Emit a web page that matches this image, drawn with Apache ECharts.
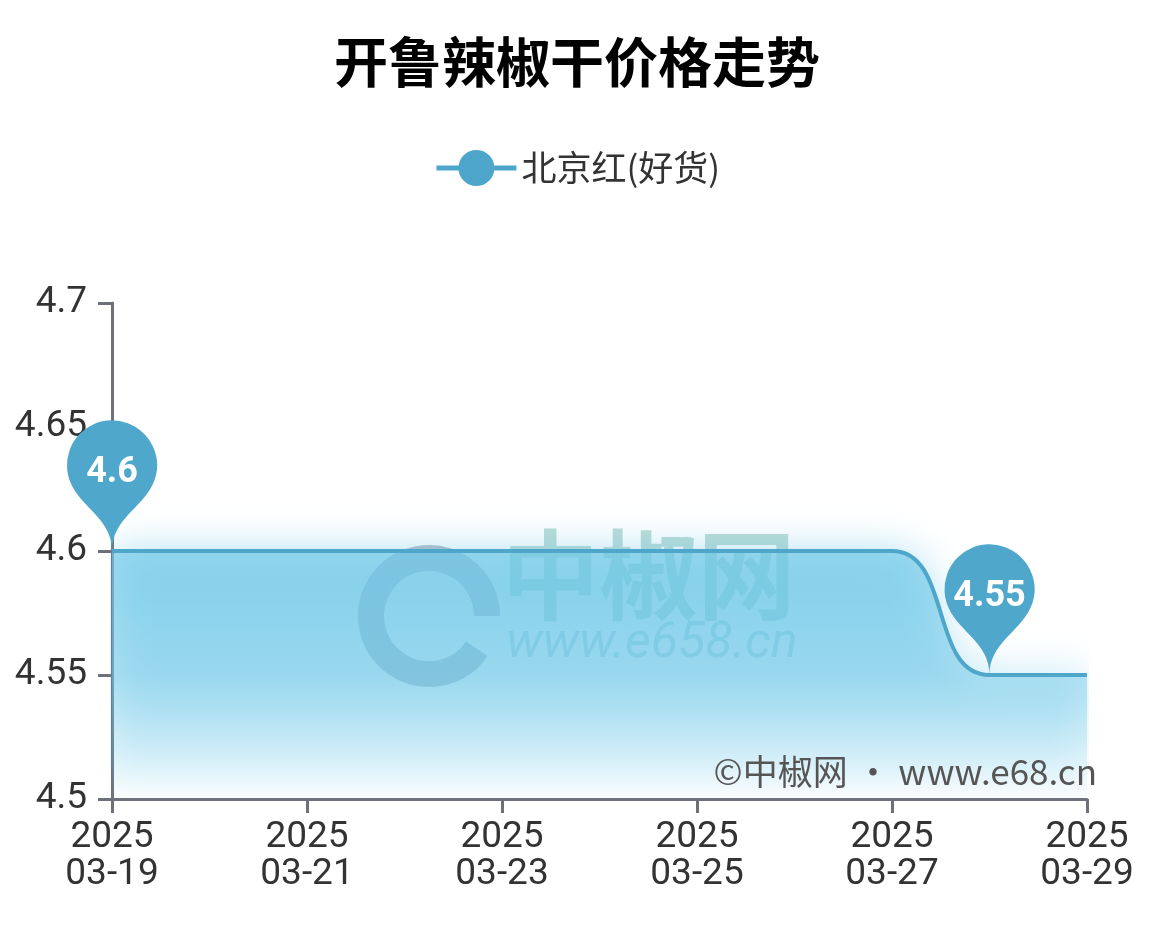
<!DOCTYPE html>
<html><head><meta charset="utf-8">
<script src="https://cdn.jsdelivr.net/npm/echarts@6/dist/echarts.min.js"></script>
<style>html,body{margin:0;padding:0;background:#fff}#c{width:1154px;height:929px}</style>
</head><body><div id="c"></div>
<script>
const categories = ['2025\n03-19','2025\n03-20','2025\n03-21','2025\n03-22','2025\n03-23','2025\n03-24','2025\n03-25','2025\n03-26','2025\n03-27','2025\n03-28','2025\n03-29'];
const seriesName = '北京红(好货)';
const values = [4.6,4.6,4.6,4.6,4.6,4.6,4.6,4.6,4.6,4.55,4.55];
const titleText = '开鲁辣椒干价格走势';
const creditText = '©中椒网 · www.e68.cn';

const chart = echarts.init(document.getElementById('c'));
chart.setOption({
  animation:false,
  backgroundColor:'#fff',
  title:{text:titleText,left:'center',top:30,textStyle:{fontSize:54,fontWeight:'bold',color:'#000',fontFamily:'Noto Sans CJK SC'}},
  legend:{top:145,left:'center',itemWidth:80,itemHeight:45,itemGap:20,
    lineStyle:{width:5},
    textStyle:{fontSize:35,color:'#333',fontFamily:'Noto Sans CJK SC'},data:[seriesName]},
  grid:{left:112,right:67,top:303,bottom:130},
  xAxis:{type:'category',boundaryGap:false,data:categories,
    axisLine:{lineStyle:{color:'#6e7079',width:3}},
    axisTick:{length:14,lineStyle:{width:3},interval:1},
    axisLabel:{interval:1,fontSize:37,color:'#333',lineHeight:37,margin:20,fontFamily:'Roboto'}},
  yAxis:{type:'value',min:4.5,max:4.7,interval:0.05,
    axisLine:{show:true,lineStyle:{color:'#6e7079',width:3}},
    axisTick:{show:true,length:14,lineStyle:{width:3}},
    splitLine:{show:false},
    axisLabel:{fontSize:37,color:'#333',margin:25,fontFamily:'Roboto'}},
  graphic:[
    {type:'arc',left:358,top:545,shape:{r:58,startAngle:0.6,endAngle:Math.PI*2},style:{fill:'none',stroke:'rgba(110,125,150,0.5)',lineWidth:26},z:1},
    {type:'text',left:500,top:524,style:{text:'中椒网',font:'bold 98px "Noto Sans CJK SC"',fill:'rgba(80,165,150,0.4)',stroke:'rgba(255,255,255,0.25)',lineWidth:3},z:1},
    {type:'text',left:505,top:618,style:{text:'www.e658.cn',font:'italic 50px Roboto',fill:'rgba(90,160,170,0.4)',stroke:'rgba(255,255,255,0.2)',lineWidth:2},z:1},
    {type:'text',right:57,top:754,style:{text:creditText,font:'35px "Noto Sans CJK SC"',fill:'#555'},z:10}
  ],
  series:[{
    name:seriesName,type:'line',smooth:true,data:values,
    symbol:'circle',symbolSize:10,showSymbol:false,
    lineStyle:{color:'#4ea6cb',width:4},
    itemStyle:{color:'#4ea6cb'},
    areaStyle:{
      color:new echarts.graphic.LinearGradient(0,0,0,1,[{offset:0,color:'rgba(110,200,232,0.95)'},{offset:0.5,color:'rgba(110,200,232,0.7)'},{offset:1,color:'rgba(110,200,232,0.03)'}]),
      shadowColor:'rgba(100,195,230,0.8)',shadowBlur:40},
    markPoint:{symbolSize:150,
      itemStyle:{color:'#4fa8cc'},
      label:{fontSize:36,fontWeight:'bold',color:'#fff',fontFamily:'Roboto',offset:[0,0]},
      data:[{type:'max',name:'max'},{type:'min',name:'min'}]}
  }]
});
</script></body></html>
